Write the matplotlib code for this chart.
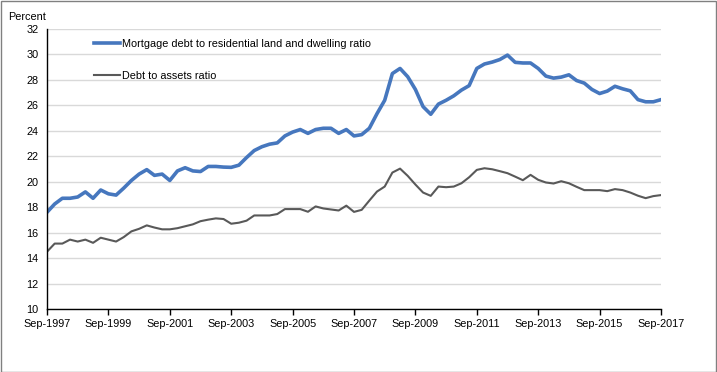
import numpy as np
import matplotlib.pyplot as plt
from matplotlib.patches import Rectangle

plt.rcParams['font.family'] = ['Liberation Sans', 'DejaVu Sans']

# quarterly, Sep-1997 .. Sep-2017
mortgage_ratio = [
    17.6, 18.25, 18.7, 18.7, 18.8, 19.2, 18.7, 19.35, 19.05, 18.95,
    19.5, 20.1, 20.6, 20.95, 20.5, 20.6, 20.1, 20.85, 21.1, 20.85,
    20.8, 21.2, 21.2, 21.15, 21.13, 21.3, 21.9, 22.45, 22.75, 22.95,
    23.05, 23.6, 23.9, 24.1, 23.8, 24.1, 24.2, 24.2, 23.8, 24.1,
    23.6, 23.7, 24.2, 25.35, 26.4, 28.5, 28.9, 28.25, 27.25, 25.9,
    25.3, 26.1, 26.4, 26.75, 27.2, 27.55, 28.9, 29.25, 29.4, 29.6,
    29.95, 29.38, 29.33, 29.33, 28.9, 28.3, 28.14, 28.22, 28.4, 27.95,
    27.75, 27.25, 26.93, 27.12, 27.5, 27.3, 27.14, 26.45, 26.28, 26.28,
    26.45,
]
debt_assets_ratio = [
    14.5, 15.14, 15.14, 15.45, 15.3, 15.45, 15.2, 15.6, 15.45, 15.3,
    15.65, 16.1, 16.3, 16.57, 16.4, 16.26, 16.26, 16.35, 16.5, 16.65,
    16.9, 17.02, 17.12, 17.07, 16.7, 16.78, 16.94, 17.35, 17.35, 17.35,
    17.46, 17.85, 17.85, 17.85, 17.64, 18.06, 17.9, 17.82, 17.74, 18.12,
    17.63, 17.79, 18.52, 19.23, 19.62, 20.72, 21.03, 20.46, 19.78, 19.15,
    18.89, 19.62, 19.57, 19.62, 19.88, 20.35, 20.93, 21.06, 20.98, 20.83,
    20.67, 20.4, 20.12, 20.54, 20.15, 19.94, 19.86, 20.04, 19.88, 19.6,
    19.34, 19.34, 19.34, 19.26, 19.42, 19.34, 19.15, 18.9, 18.71, 18.87,
    18.95,
]
tick_labels = ['Sep-1997', 'Sep-1999', 'Sep-2001', 'Sep-2003', 'Sep-2005', 'Sep-2007',
               'Sep-2009', 'Sep-2011', 'Sep-2013', 'Sep-2015', 'Sep-2017']

x = np.arange(len(mortgage_ratio))

fig = plt.figure(figsize=(7.17, 3.72), dpi=100)
ax = fig.add_axes([47/717, 1-309/372, (661-47)/717, (309-29)/372])

ax.plot(x, mortgage_ratio, color='#4677be', lw=2.6, solid_joinstyle='round',
        label='Mortgage debt to residential land and dwelling ratio')
ax.plot(x, debt_assets_ratio, color='#595959', lw=1.5, solid_joinstyle='round',
        label='Debt to assets ratio')

ax.set_xlim(0, len(x) - 1)
ax.set_ylim(10, 32)
ax.set_yticks(range(10, 33, 2))
ax.set_xticks(np.arange(0, len(x), 8))
ax.set_xticklabels(tick_labels)
ax.tick_params(axis='x', direction='out', length=4, width=1, labelsize=7.8, pad=3)
ax.tick_params(axis='y', length=0, labelsize=7.8, pad=6)
ax.grid(axis='y', color='#d9d9d9', lw=1)
ax.set_axisbelow(True)
for s in ['top', 'right']:
    ax.spines[s].set_visible(False)
ax.spines['left'].set_linewidth(1)
ax.spines['bottom'].set_linewidth(1)

ax.legend(loc='upper left', bbox_to_anchor=(0.06, 1.0), frameon=False, fontsize=7.8,
          handlelength=2.4, handletextpad=0.2, labelspacing=2.05)

fig.text(8/717, 1-17/372, 'Percent', fontsize=7.8, va='center', ha='left')

fig.patches.append(Rectangle((0.5/717, 0.5/372), 1-1.5/717, 1-1.5/372, transform=fig.transFigure,
                             fill=False, edgecolor='#808080', lw=1))

fig.savefig('out.png', dpi=100)
